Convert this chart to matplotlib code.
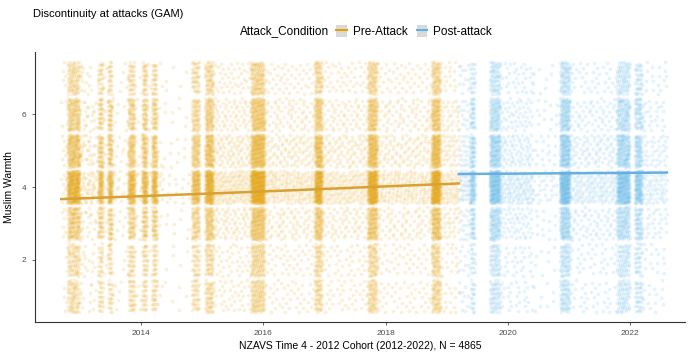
import matplotlib
matplotlib.use("Agg")
import matplotlib.pyplot as plt
from matplotlib.lines import Line2D
from matplotlib.patches import Patch
import numpy as np

plt.rcParams['font.family'] = ['Liberation Sans', 'DejaVu Sans']

# response levels of the warmth scale and share of answers at each level
levels = [1, 2, 3, 4, 5, 6, 7]
level_share = [0.08, 0.08, 0.14, 0.30, 0.18, 0.13, 0.09]

# time bands of responses (start year, end year, number of points)
pre_start = [2012.80, 2013.30, 2013.46, 2013.79, 2014.02, 2014.18, 2014.83, 2015.05,
             2015.80, 2016.84, 2017.71, 2018.75,
             2012.70, 2013.00, 2014.35, 2015.18, 2016.02, 2016.96, 2017.86, 2018.89]
pre_end = [2013.00, 2013.38, 2013.53, 2013.90, 2014.10, 2014.26, 2014.96, 2015.18,
           2016.02, 2016.96, 2017.86, 2018.89,
           2013.25, 2014.35, 2014.80, 2015.80, 2016.84, 2017.71, 2018.75, 2019.20]
pre_n = [900, 300, 300, 450, 350, 350, 500, 700,
         1400, 700, 900, 900,
         220, 300, 60, 500, 560, 500, 560, 220]

post_start = [2019.20, 2019.38, 2019.70, 2019.87, 2020.40, 2020.85, 2021.01, 2021.78, 2022.07, 2022.19]
post_end = [2019.38, 2019.46, 2019.87, 2020.40, 2020.80, 2021.01, 2021.78, 2021.99, 2022.19, 2022.60]
post_n = [120, 250, 700, 380, 100, 800, 450, 800, 400, 200]

# GAM fitted curves
pre_fit_x = [2012.70, 2014.0, 2016.0, 2018.0, 2019.20]
pre_fit_y = [3.67, 3.75, 3.88, 4.02, 4.10]
post_fit_x = [2019.20, 2022.60]
post_fit_y = [4.36, 4.40]

col_pre = '#E69F00'
col_post = '#56B4E9'


def jitter_points(starts, ends, counts):
    # deterministic jitter (R2 low discrepancy sequence) inside each band/level
    xs, ys = [], []
    k = 0
    for s, e, n in zip(starts, ends, counts):
        for lev, w in zip(levels, level_share):
            m = int(round(n * w))
            i = np.arange(k, k + m)
            k += m
            u = (0.5 + i * 0.7548776662) % 1
            v = (0.5 + i * 0.5698402910) % 1
            xs.append(s + u * (e - s))
            ys.append(lev - 0.45 + v * 0.9)
    return np.concatenate(xs), np.concatenate(ys)


fig = plt.figure(figsize=(7, 3.53), dpi=100)
ax = fig.add_axes([0.05, 0.088, 0.929, 0.765])

px, py = jitter_points(pre_start, pre_end, pre_n)
qx, qy = jitter_points(post_start, post_end, post_n)
ax.scatter(px, py, s=7, color=col_pre, alpha=0.15, linewidths=0, rasterized=True)
ax.scatter(qx, qy, s=7, color=col_post, alpha=0.15, linewidths=0, rasterized=True)

ax.plot(pre_fit_x, pre_fit_y, color='#D9A033', lw=1.8)
ax.plot(post_fit_x, post_fit_y, color='#6AAEE0', lw=1.8)

ax.set_xlim(2012.27, 2022.9)
ax.set_ylim(0.29, 7.72)
ax.set_xticks([2014, 2016, 2018, 2020, 2022])
ax.set_yticks([2, 4, 6])
ax.tick_params(labelsize=6, colors='#4d4d4d', length=2.5, width=0.6)
for sp in ['top', 'right']:
    ax.spines[sp].set_visible(False)
for sp in ['left', 'bottom']:
    ax.spines[sp].set_linewidth(0.8)
    ax.spines[sp].set_color('#333333')

ax.set_ylabel('Muslim Warmth', fontsize=7.5, labelpad=6)
ax.set_xlabel('NZAVS Time 4 - 2012 Cohort (2012-2022), N = 4865', fontsize=7.5, labelpad=3)

fig.text(0.047, 0.975, 'Discontinuity at attacks (GAM)', fontsize=8, va='top', ha='left')

# legend: title on the same row as the keys
fig.text(0.343, 0.913, 'Attack_Condition', fontsize=8.5, va='center', ha='left')
handles = [
    (Patch(facecolor='#D9D9D9', edgecolor='none'), Line2D([], [], color=col_pre, lw=1.5)),
    (Patch(facecolor='#D9D9D9', edgecolor='none'), Line2D([], [], color=col_post, lw=1.5)),
]
fig.legend(handles, ['Pre-Attack', 'Post-attack'], loc='center left',
           bbox_to_anchor=(0.48, 0.910), ncol=2, frameon=False, borderpad=0,
           borderaxespad=0, fontsize=8.5, handlelength=0.9, handleheight=1.1,
           handletextpad=0.5, columnspacing=0.8)

fig.savefig('out.png', dpi=100)
